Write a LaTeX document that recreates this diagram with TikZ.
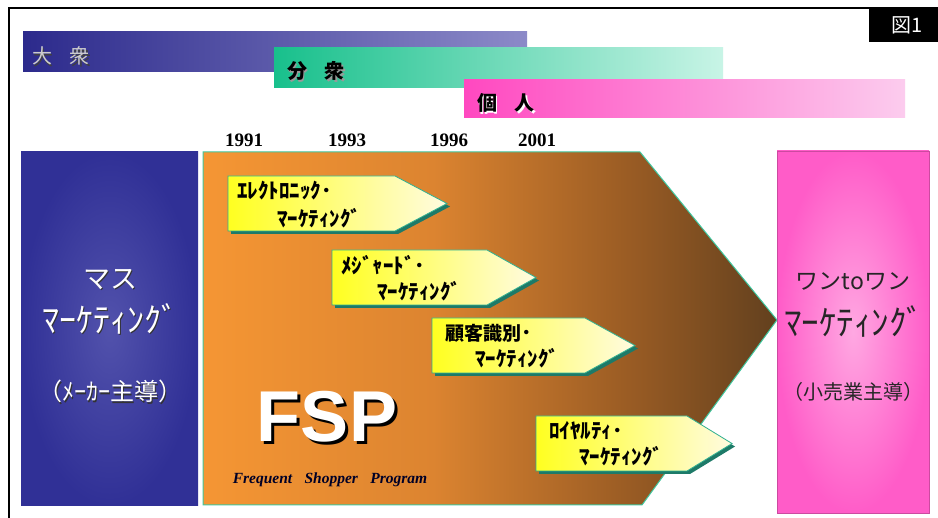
\documentclass[tikz,border=0pt]{standalone}
\usepackage{fontspec}
\setmainfont{Liberation Serif}
\newfontfamily\jpf{Noto Sans CJK JP}
\newfontfamily\arialf{Liberation Sans}
\newcommand\fsz[1]{\fontsize{#1}{#1}\selectfont}
\definecolor{bandAl}{HTML}{2C2A8C}
\definecolor{bandAr}{HTML}{8C8AC8}
\definecolor{bandBl}{HTML}{18C08C}
\definecolor{bandBr}{HTML}{C8F4E6}
\definecolor{bandCl}{HTML}{FF48C0}
\definecolor{bandCr}{HTML}{FCCCEE}
\definecolor{massblue}{HTML}{303096}
\definecolor{massin}{HTML}{5252AC}
\definecolor{onepink}{HTML}{FF5CC8}
\definecolor{onein}{HTML}{FFA8E2}
\definecolor{fspedge}{HTML}{40C8A0}
\definecolor{yel1}{HTML}{FFFF20}
\definecolor{yel2}{HTML}{FFFBE0}
\definecolor{tealsh}{HTML}{1E7A68}
\definecolor{tealedge}{HTML}{30B090}
\definecolor{fspA}{HTML}{F59634}
\definecolor{fspB}{HTML}{DC8430}
\definecolor{fspC}{HTML}{9A5C24}
\definecolor{fspD}{HTML}{62401E}
\pgfdeclarehorizontalshading{fspgrad}{100bp}{%
  color(0bp)=(fspA); color(25bp)=(fspA); color(45bp)=(fspB); color(62bp)=(fspC);
  color(75bp)=(fspD); color(100bp)=(fspD)}
\newcommand\yarrow[5]{%
  \fill[tealsh] (#1+3,#2+3) -- (#3+3,#2+3) -- (#4+3,{(#2+#5)/2+3}) -- (#3+3,#5+3) -- (#1+3,#5+3) -- cycle;
  \shade[left color=yel1,right color=yel2,draw=tealedge,line width=0.8pt] (#1,#2) -- (#3,#2) -- (#4,{(#2+#5)/2}) -- (#3,#5) -- (#1,#5) -- cycle;}
\tikzset{
  yr/.style={font={\bfseries\fsz{19}},inner sep=0pt},
  arrtxt/.style={font={\jpf\bfseries\fsz{21}},inner sep=0pt,anchor=west},
  lefttxt/.style={text=white,inner sep=0pt},
  leftsh/.style={text=black!80,inner sep=0pt},
  righttxt/.style={text=black!85,inner sep=0pt},
}
\begin{document}
\begin{tikzpicture}[x=1pt,y=-1pt]
\useasboundingbox (0,0) rectangle (938,518);
\fill[white] (0,0) rectangle (938,518);
% frame
\draw[line width=2pt] (9,518) -- (9,8) -- (938,8);
\fill[black] (869,8) rectangle (938,42);
\node[text=white,font={\jpf\fsz{20}},inner sep=0pt] (figno) at (907,25) {図1};
% bands
\shade[left color=bandAl,right color=bandAr] (23,32) rectangle (527,72);
\shade[left color=bandBl,right color=bandBr] (274,48) rectangle (723,88);
\shade[left color=bandCl,right color=bandCr] (464,80) rectangle (905,118);
\node[text=black!75,font={\jpf\fsz{20}},inner sep=0pt] (taishu-s) at (62.5,57.5) {大\hspace{0.9em}衆};
\node[text=black!20,font={\jpf\fsz{20}},inner sep=0pt] (taishu) at (61,56) {大\hspace{0.9em}衆};
\node[text=black!40,font={\jpf\bfseries\fsz{20}},inner sep=0pt] (bunshu-s) at (317.5,72.5) {分\hspace{0.9em}衆};
\node[text=black,font={\jpf\bfseries\fsz{20}},inner sep=0pt] (bunshu) at (316,71) {分\hspace{0.9em}衆};
\node[text=white,font={\jpf\bfseries\fsz{20}},inner sep=0pt] (kojin-s) at (507.5,104.5) {個\hspace{0.9em}人};
\node[text=black,font={\jpf\bfseries\fsz{20}},inner sep=0pt] (kojin) at (506,103) {個\hspace{0.9em}人};
% years
\node[yr] (y1991) at (244,140) {1991};
\node[yr] (y1993) at (347,140) {1993};
\node[yr] (y1996) at (449,140) {1996};
\node[yr] (y2001) at (537,140) {2001};
% left box
\shade[inner color=massin,outer color=massblue] (21,152) rectangle (198,506);
% FSP arrow
\shade[shading=fspgrad,draw=fspedge,line width=1pt]
  (203,152) -- (640,152) -- (777,320) -- (642,505) -- (203,505) -- cycle;
% right box
\shade[inner color=onein,outer color=onepink,draw=onepink!80!black,line width=0.5pt] (777,151) rectangle (929,513);
% small arrows
\yarrow{228}{176}{395}{447}{231}
\yarrow{332}{250}{487}{536}{305}
\yarrow{432}{318}{585}{635}{373}
\yarrow{536}{416}{687}{732}{471}
\node[arrtxt] (a1a) at (237,191) {ｴﾚｸﾄﾛﾆｯｸ･};
\node[arrtxt] (a1b) at (277,218) {ﾏｰｹﾃｨﾝｸﾞ};
\node[arrtxt] (a2a) at (341,265) {ﾒｼﾞｬｰﾄﾞ･};
\node[arrtxt] (a2b) at (377,291) {ﾏｰｹﾃｨﾝｸﾞ};
\node[arrtxt] (a3a) at (445,333) {{\fsz{19}顧客識別}･};
\node[arrtxt] (a3b) at (475,358) {ﾏｰｹﾃｨﾝｸﾞ};
\node[arrtxt] (a4a) at (549,431) {ﾛｲﾔﾙﾃｨ･};
\node[arrtxt] (a4b) at (579,456) {ﾏｰｹﾃｨﾝｸﾞ};
% left texts
\node[leftsh,font={\jpf\fsz{27}}] (mas-s) at (111.5,281) {マス};
\node[lefttxt,font={\jpf\fsz{27}}] (mas) at (110,279.5) {マス};
\node[leftsh,font={\jpf\fsz{34}}] (mkt-s) at (111.5,320) {ﾏｰｹﾃｨﾝｸﾞ};
\node[lefttxt,font={\jpf\fsz{34}}] (mkt) at (110,318.5) {ﾏｰｹﾃｨﾝｸﾞ};
\node[leftsh,font={\jpf\fsz{24}}] (maker-s) at (111.5,393) {（ﾒｰｶｰ主導）};
\node[lefttxt,font={\jpf\fsz{24}}] (maker) at (110,391.5) {（ﾒｰｶｰ主導）};
% right texts
\node[righttxt,font={\jpf\fsz{23}}] (oto) at (853,281) {ワンtoワン};
\node[righttxt,font={\jpf\fsz{35}}] (mkt2) at (854,321) {ﾏｰｹﾃｨﾝｸﾞ};
\node[righttxt,font={\jpf\fsz{20}}] (retail) at (853,392) {（小売業主導）};
% FSP
\node[text=black,font={\arialf\bfseries\fsz{72}},inner sep=0pt] (fsp-s) at (330,420) {FSP};
\node[text=white,font={\arialf\bfseries\fsz{72}},inner sep=0pt] (fsp) at (327,417) {FSP};
\node[text=black!85!blue,font={\bfseries\itshape\fsz{15.5}},inner sep=0pt] (fspfull) at (330,480) {Frequent\hspace{0.8em}Shopper\hspace{0.8em}Program};
\end{tikzpicture}
\end{document}
